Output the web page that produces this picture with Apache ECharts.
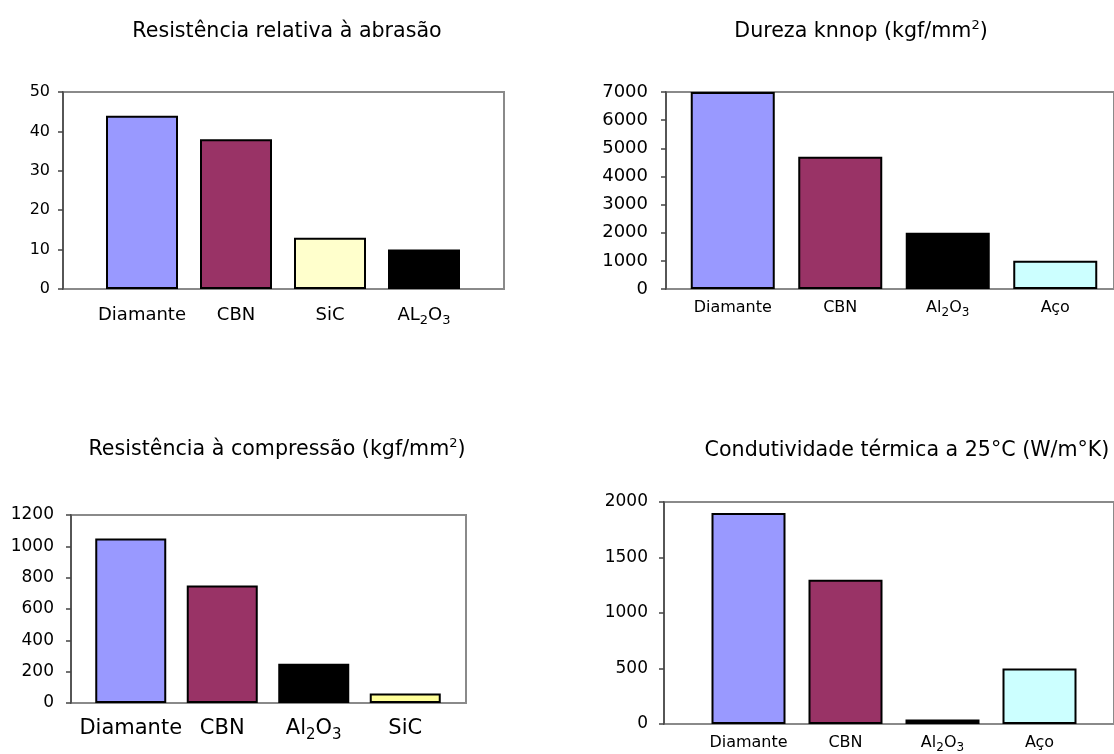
<!DOCTYPE html>
<html>
<head>
<meta charset="utf-8">
<script src="https://cdn.jsdelivr.net/npm/echarts@6/dist/echarts.min.js"></script>
<style>
  html, body { margin: 0; padding: 0; background: #ffffff; }
  #chart { width: 1114px; height: 754px; }
</style>
</head>
<body>
<div id="chart"></div>
<script>
// Propriedades de materiais abrasivos: quatro gráficos de barras
const abrasaoCategorias = ['Diamante', 'CBN', 'SiC', 'AL2O3'];
const abrasaoValores = [44, 38, 13, 10];
const abrasaoEixo = [0, 50, 10];            // mínimo, máximo, intervalo

const durezaCategorias = ['Diamante', 'CBN', 'Al2O3', 'Aço'];
const durezaValores = [7000, 4700, 2000, 1000];
const durezaEixo = [0, 7000, 1000];

const compressaoCategorias = ['Diamante', 'CBN', 'Al2O3', 'SiC'];
const compressaoValores = [1050, 750, 250, 60];
const compressaoEixo = [0, 1200, 200];

const condutividadeCategorias = ['Diamante', 'CBN', 'Al2O3', 'Aço'];
const condutividadeValores = [1900, 1300, 40, 500];
const condutividadeEixo = [0, 2000, 500];

const FONTE = '"DejaVu Sans", "Liberation Sans", Arial, sans-serif';

// Cores de preenchimento por material
const coresBase = {
  'Diamante': '#9999FF',
  'CBN': '#993366',
  'SiC': '#FFFFCC',
  'AL2O3': '#000000',
  'Al2O3': '#000000',
  'Aço': '#CCFFFF'
};

// Layout de cada painel: caixa do gráfico [left, top, width, height],
// faixa das categorias [left, width] e tamanhos de texto
const paineis = [
  {
    titulo: 'Resistência relativa à abrasão', tx: 282, ty: 27,
    cats: abrasaoCategorias, vals: abrasaoValores, eixo: abrasaoEixo,
    caixa: [63, 92, 441, 197], faixa: [95, 376], barra: 72,
    fonteEixo: 16, margemEixo: 13, fonteCat: 18, margemCat: 14, cores: {}
  },
  {
    titulo: 'Dureza knnop (kgf/mm{sup|2})', tx: 856, ty: 27,
    cats: durezaCategorias, vals: durezaValores, eixo: durezaEixo,
    caixa: [666, 92, 456, 197], faixa: [679, 430], barra: 84,
    fonteEixo: 18, margemEixo: 18, fonteCat: 16, margemCat: 8, cores: {}
  },
  {
    titulo: 'Resistência à compressão (kgf/mm{sup|2})', tx: 272, ty: 445,
    cats: compressaoCategorias, vals: compressaoValores, eixo: compressaoEixo,
    caixa: [71, 515, 395, 188], faixa: [85, 366], barra: 71,
    fonteEixo: 17, margemEixo: 17, fonteCat: 21, margemCat: 12, cores: { 'SiC': '#FFFF99' }
  },
  {
    titulo: 'Condutividade térmica a 25°C (W/m°K)', tx: 902, ty: 446,
    cats: condutividadeCategorias, vals: condutividadeValores, eixo: condutividadeEixo,
    caixa: [664, 502, 461, 222], faixa: [700, 388], barra: 74,
    fonteEixo: 17, margemEixo: 16, fonteCat: 16, margemCat: 8, cores: {}
  }
];

// Fórmulas químicas: números viram subscrito
function formula(v) {
  return v.split(/(\d+)/).filter(s => s.length)
    .map(s => /^\d+$/.test(s) ? '{sub|' + s + '}' : '{n|' + s + '}').join('');
}

const option = {
  backgroundColor: '#ffffff',
  animation: false,
  title: [], grid: [], xAxis: [], yAxis: [], series: []
};

paineis.forEach((p, i) => {
  const TL = 26;
  option.title.push({
    text: p.titulo,
    left: p.tx, top: p.ty - TL / 2, textAlign: 'center',
    textStyle: {
      fontFamily: FONTE, fontSize: 20.6, fontWeight: 'normal', color: '#000', lineHeight: TL,
      rich: {
        sup: { fontFamily: FONTE, fontSize: 13, lineHeight: 12, verticalAlign: 'top', color: '#000' }
      }
    }
  });

  const [bx, by, bw, bh] = p.caixa;
  // caixa com borda cinza e eixo de valores
  option.grid.push({
    left: bx, top: by, width: bw, height: bh, show: true,
    borderColor: '#8a8a8a', borderWidth: 2, backgroundColor: 'transparent'
  });
  // faixa das barras
  option.grid.push({ left: p.faixa[0], top: by, width: p.faixa[1], height: bh });

  const g = 2 * i;
  option.xAxis.push({ gridIndex: g, type: 'value', min: 0, max: 1, show: false });
  const lh = Math.round(p.fonteCat * 1.35);
  const subF = Math.round(p.fonteCat * 0.72);
  option.xAxis.push({
    gridIndex: g + 1, type: 'category', data: p.cats,
    axisLine: { show: false }, axisTick: { show: false }, splitLine: { show: false },
    axisLabel: {
      interval: 0, margin: p.margemCat, formatter: formula,
      rich: {
        n: { fontFamily: FONTE, fontSize: p.fonteCat, lineHeight: lh, color: '#000' },
        sub: { fontFamily: FONTE, fontSize: subF, lineHeight: Math.round(lh * 0.67), verticalAlign: 'bottom', color: '#000' }
      }
    }
  });

  const [mn, mx, step] = p.eixo;
  option.yAxis.push({
    gridIndex: g, type: 'value', min: mn, max: mx, interval: step,
    axisLine: { show: true, lineStyle: { color: '#444', width: 1.5 } },
    axisTick: { show: true, inside: false, length: 5, lineStyle: { color: '#444', width: 1.5 } },
    splitLine: { show: false },
    axisLabel: {
      fontFamily: FONTE, fontSize: p.fonteEixo, color: '#000', margin: p.margemEixo,
      formatter: v => String(v)
    }
  });
  option.yAxis.push({ gridIndex: g + 1, type: 'value', min: mn, max: mx, show: false, splitLine: { show: false } });

  option.series.push({
    type: 'bar', xAxisIndex: g + 1, yAxisIndex: g + 1, barWidth: p.barra,
    itemStyle: { borderColor: '#000', borderWidth: 2 },
    data: p.vals.map((v, j) => ({
      value: v,
      itemStyle: { color: p.cores[p.cats[j]] || coresBase[p.cats[j]] }
    }))
  });
});

const chart = echarts.init(document.getElementById('chart'), null, { renderer: 'canvas' });
chart.setOption(option);
</script>
</body>
</html>
